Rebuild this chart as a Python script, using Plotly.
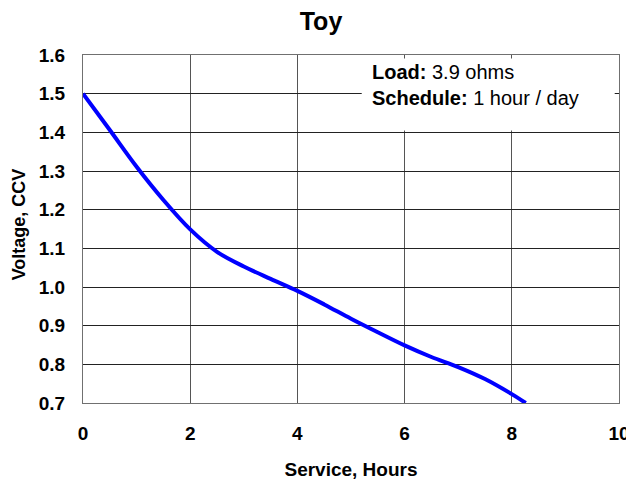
import plotly.graph_objects as go

# Data
service_hours = [0, 0.5, 1, 1.5, 2, 2.5, 3, 3.5, 4, 4.5, 5, 5.5, 6, 6.5, 7, 7.5, 8, 8.26]
voltage_ccv = [1.5, 1.406, 1.311, 1.225, 1.149, 1.091, 1.053, 1.021, 0.99, 0.955, 0.918, 0.883,
               0.849, 0.819, 0.793, 0.762, 0.723, 0.7]

x_ticks = [0, 2, 4, 6, 8, 10]
y_ticks = [0.7, 0.8, 0.9, 1.0, 1.1, 1.2, 1.3, 1.4, 1.5, 1.6]

title_text = "Toy"
x_title = "Service, Hours"
y_title = "Voltage, CCV"
note_lines = ["<b>Load:</b> 3.9 ohms", "<b>Schedule:</b> 1 hour / day"]

FONT = "Arial, 'Liberation Sans', Helvetica, sans-serif"

fig = go.Figure()
fig.add_trace(go.Scatter(
    x=service_hours, y=voltage_ccv, mode="lines",
    line=dict(color="#0000FF", width=4, shape="spline", smoothing=1.0),
    hoverinfo="skip", showlegend=False, cliponaxis=True,
))

# white box behind the note
fig.add_shape(type="rect", xref="x", yref="y", x0=5.2, x1=9.92, y0=1.405, y1=1.591,
              fillcolor="white", line=dict(width=0), layer="above")

for i, txt in enumerate(note_lines):
    fig.add_annotation(x=5.36, y=[1.556, 1.488][i], xref="x", yref="y", text=txt,
                       showarrow=False, xanchor="left", yanchor="middle",
                       font=dict(family=FONT, size=20, color="black"))

# y-axis title as a rotated annotation for exact placement
fig.add_annotation(x=-0.119, y=0.514, xref="paper", yref="paper", text="<b>" + y_title + "</b>",
                   textangle=-90, showarrow=False, xanchor="center", yanchor="middle",
                   font=dict(family=FONT, size=18, color="black"))

# the page body adds an 8px margin, so the figure is 8px smaller than the window
fig.update_layout(
    width=626, height=474,
    margin=dict(l=75, r=15, t=47, b=79),
    paper_bgcolor="white", plot_bgcolor="white",
    font=dict(family=FONT, color="black"),
    title=dict(text="<b>" + title_text + "</b>", x=0.5, xanchor="center", y=0.972, yanchor="middle",
               font=dict(family=FONT, size=25, color="black")),
    xaxis=dict(range=[0, 10], tickvals=x_ticks, ticktext=[f"<b>{v}</b>" for v in x_ticks],
               showgrid=True, gridcolor="#555555", gridwidth=1,
               showline=True, linecolor="#707070", linewidth=1, mirror=True,
               ticks="", ticklabelstandoff=13, zeroline=False, automargin=False,
               tickfont=dict(family=FONT, size=19, color="black"),
               title=dict(text="<b>" + x_title + "</b>", standoff=19,
                          font=dict(family=FONT, size=19, color="black"))),
    yaxis=dict(range=[0.7, 1.6], tickvals=y_ticks, ticktext=[f"<b>{v:.1f}</b>" for v in y_ticks],
               showgrid=True, gridcolor="#222222", gridwidth=1,
               showline=True, linecolor="#707070", linewidth=1, mirror=True,
               ticks="", ticklabelstandoff=13, zeroline=False, automargin=False,
               tickfont=dict(family=FONT, size=19, color="black")),
)

fig.write_html("out.html")
